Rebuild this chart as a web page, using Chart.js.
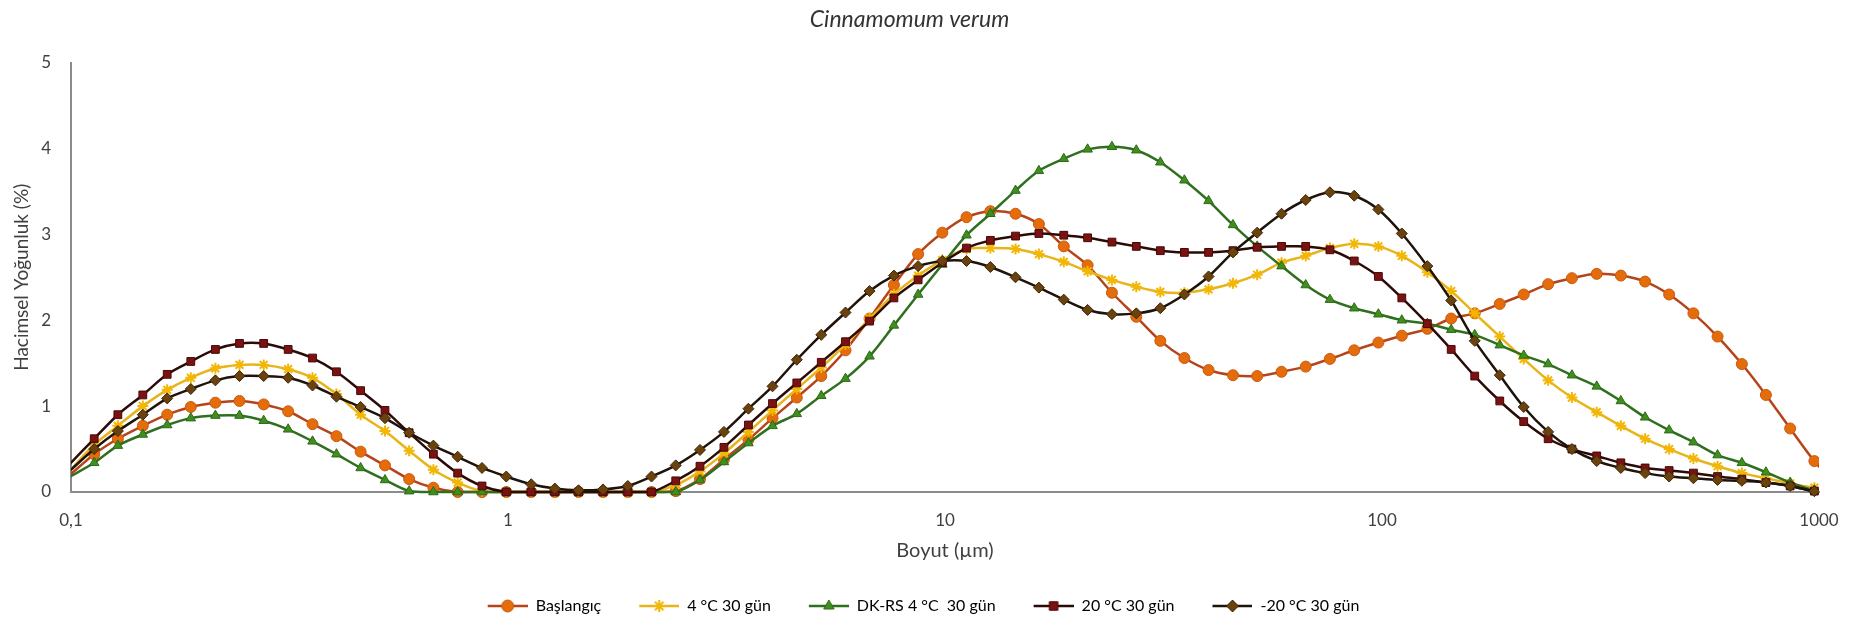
<!DOCTYPE html>
<html>
<head>
<meta charset="utf-8">
<title>Cinnamomum verum</title>
<script src="https://cdn.jsdelivr.net/npm/chart.js@4.4.1/dist/chart.umd.min.js"></script>
<style>
  html, body { margin: 0; padding: 0; background: #ffffff; }
  #wrap { width: 1870px; height: 626px; position: relative; }
</style>
</head>
<body>
<div id="wrap"><canvas id="psdChart" width="1870" height="626"></canvas></div>
<script>
// Particle size classes (µm), log spaced
var sizes = [
  0.0995, 0.113, 0.128, 0.146, 0.166, 0.188, 0.214, 0.243, 0.276, 0.314,
  0.357, 0.405, 0.460, 0.523, 0.594, 0.675, 0.767, 0.872, 0.991, 1.13,
  1.28, 1.45, 1.65, 1.88, 2.13, 2.42, 2.75, 3.12, 3.55, 4.03,
  4.58, 5.21, 5.92, 6.72, 7.64, 8.68, 9.86, 11.2, 12.7, 14.5,
  16.4, 18.7, 21.2, 24.1, 27.4, 31.1, 35.3, 40.1, 45.6, 51.8,
  58.9, 66.9, 76.0, 86.4, 98.1, 111, 127, 144, 163, 186,
  211, 240, 272, 310, 352, 400, 454, 516, 586, 666,
  756, 859, 976, 1110
];

var baslangic = [
  0.20, 0.44, 0.62, 0.77, 0.90, 0.99, 1.04, 1.06, 1.02, 0.94,
  0.79, 0.65, 0.47, 0.31, 0.15, 0.05, 0, 0, 0, 0,
  0, 0, 0, 0, 0, 0.01, 0.15, 0.38, 0.61, 0.86,
  1.10, 1.35, 1.65, 2.02, 2.41, 2.77, 3.02, 3.20, 3.27, 3.24,
  3.12, 2.86, 2.64, 2.32, 2.04, 1.76, 1.56, 1.42, 1.36, 1.35,
  1.40, 1.46, 1.55, 1.65, 1.74, 1.82, 1.90, 2.02, 2.08, 2.19,
  2.30, 2.42, 2.49, 2.54, 2.52, 2.45, 2.30, 2.08, 1.81, 1.49,
  1.13, 0.74, 0.36, 0.05
];

var c4gun30 = [
  0.25, 0.55, 0.77, 1.00, 1.19, 1.33, 1.44, 1.48, 1.48, 1.43,
  1.33, 1.14, 0.90, 0.71, 0.48, 0.26, 0.11, 0.01, 0, 0,
  0, 0, 0, 0, 0, 0.08, 0.24, 0.45, 0.70, 0.95,
  1.20, 1.45, 1.72, 2.02, 2.30, 2.52, 2.70, 2.83, 2.84, 2.83,
  2.77, 2.68, 2.57, 2.47, 2.39, 2.33, 2.32, 2.36, 2.43, 2.53,
  2.67, 2.75, 2.84, 2.89, 2.86, 2.75, 2.56, 2.34, 2.08, 1.81,
  1.55, 1.30, 1.10, 0.93, 0.77, 0.62, 0.50, 0.39, 0.30, 0.22,
  0.16, 0.10, 0.05, 0.02
];

var dkrs4 = [
  0.18, 0.34, 0.54, 0.67, 0.78, 0.86, 0.89, 0.89, 0.83, 0.73,
  0.59, 0.44, 0.28, 0.14, 0.01, 0, 0, 0, 0, 0,
  0, 0, 0, 0, 0, 0, 0.14, 0.35, 0.57, 0.77,
  0.91, 1.12, 1.32, 1.58, 1.94, 2.30, 2.65, 2.99, 3.24, 3.51,
  3.74, 3.88, 3.99, 4.02, 3.98, 3.84, 3.63, 3.39, 3.11, 2.86,
  2.63, 2.41, 2.24, 2.14, 2.07, 2.00, 1.96, 1.89, 1.83, 1.71,
  1.59, 1.49, 1.36, 1.23, 1.06, 0.87, 0.72, 0.58, 0.43, 0.34,
  0.23, 0.11, 0.02, 0
];

var c20gun30 = [
  0.33, 0.62, 0.90, 1.13, 1.37, 1.52, 1.66, 1.73, 1.73, 1.66,
  1.56, 1.40, 1.18, 0.95, 0.69, 0.44, 0.22, 0.07, 0, 0,
  0, 0, 0, 0, 0, 0.13, 0.30, 0.52, 0.78, 1.03,
  1.27, 1.51, 1.75, 1.99, 2.26, 2.47, 2.67, 2.84, 2.93, 2.98,
  3.01, 2.99, 2.96, 2.91, 2.86, 2.81, 2.79, 2.79, 2.81, 2.85,
  2.86, 2.86, 2.82, 2.69, 2.51, 2.26, 1.96, 1.66, 1.35, 1.06,
  0.82, 0.62, 0.50, 0.42, 0.34, 0.28, 0.25, 0.22, 0.18, 0.15,
  0.11, 0.07, 0.01, 0
];

var eksi20gun30 = [
  0.25, 0.50, 0.71, 0.90, 1.09, 1.20, 1.30, 1.35, 1.35, 1.33,
  1.24, 1.11, 0.99, 0.86, 0.69, 0.54, 0.41, 0.28, 0.18, 0.09,
  0.04, 0.02, 0.03, 0.07, 0.18, 0.31, 0.49, 0.70, 0.97, 1.23,
  1.54, 1.83, 2.09, 2.34, 2.52, 2.63, 2.69, 2.69, 2.62, 2.50,
  2.38, 2.24, 2.12, 2.07, 2.08, 2.14, 2.30, 2.51, 2.79, 3.02,
  3.24, 3.40, 3.49, 3.45, 3.29, 3.01, 2.63, 2.23, 1.76, 1.36,
  0.99, 0.70, 0.50, 0.36, 0.28, 0.22, 0.18, 0.16, 0.14, 0.13,
  0.11, 0.07, 0.01, 0
];

var seriesNames = ['Başlangıç', '4 °C 30 gün', 'DK-RS 4 °C  30 gün', '20 °C 30 gün', '-20 °C 30 gün'];
var xTickValues = [0.1, 1, 10, 100, 1000];
var xTickLabels = ['0,1', '1', '10', '100', '1000'];

var FONT = 'Lato, "Open Sans", "DejaVu Sans", sans-serif';
var TEXT_COLOR = '#404040';

var styles = [
  { line: '#b5441a', fill: '#e46c0a', border: '#c85a10', point: 'circle', order: 5 },
  { line: '#e8b419', fill: '#f2b705', border: '#e2a900', point: 'star', order: 4 },
  { line: '#2f6f1f', fill: '#3f8f1f', border: '#2d6a16', point: 'triangle', order: 3 },
  { line: '#2b0b08', fill: '#7b1212', border: '#4a0808', point: 'rect', order: 2 },
  { line: '#1f130a', fill: '#6a420e', border: '#3e2606', point: 'rectRot', order: 1 }
];

function toPoints(values) {
  var pts = [];
  for (var i = 0; i < sizes.length; i++) {
    pts.push({ x: sizes[i], y: values[i] });
  }
  return pts;
}

// hide markers that fall outside the 0,1 - 1000 window
function markerRadius(ctx) {
  var x = sizes[ctx.dataIndex];
  if (x < 0.1 || x > 1000) return 0;
  return 5.5;
}

// legend icon: short line with the marker on it (left part transparent as spacing)
function makeLegendIcon(st) {
  var c = document.createElement('canvas');
  c.width = 68;
  c.height = 16;
  var g = c.getContext('2d');
  g.strokeStyle = st.line;
  g.lineWidth = 2.5;
  g.beginPath();
  g.moveTo(28, 8);
  g.lineTo(68, 8);
  g.stroke();
  g.fillStyle = st.fill;
  g.strokeStyle = st.point === 'star' ? st.fill : st.border;
  g.lineWidth = st.point === 'star' ? 2 : 1;
  Chart.helpers.drawPoint(g, { pointStyle: st.point, radius: 6, borderWidth: g.lineWidth, rotation: 0 }, 48, 8);
  return c;
}

var allValues = [baslangic, c4gun30, dkrs4, c20gun30, eksi20gun30];
var datasets = [];
for (var s = 0; s < allValues.length; s++) {
  var st = styles[s];
  datasets.push({
    label: seriesNames[s],
    data: toPoints(allValues[s]),
    borderColor: st.line,
    borderWidth: 2.5,
    backgroundColor: st.fill,
    pointStyle: st.point,
    pointRadius: markerRadius,
    pointBackgroundColor: st.fill,
    pointBorderColor: st.point === 'star' ? st.fill : st.border,
    pointBorderWidth: st.point === 'star' ? 2 : 1,
    tension: 0.3,
    fill: false,
    order: st.order,
    clip: { left: 0, right: 0, top: 10, bottom: 10 },
    legendIcon: makeLegendIcon(st)
  });
}

var ctx = document.getElementById('psdChart');
var psdChart = new Chart(ctx, {
  type: 'line',
  data: { datasets: datasets },
  options: {
    responsive: false,
    animation: false,
    devicePixelRatio: 1,
    layout: { padding: { left: 0, right: 51, top: 0, bottom: 2 } },
    plugins: {
      title: {
        display: true,
        text: 'Cinnamomum verum',
        color: '#333333',
        font: { family: FONT, size: 23, style: 'italic', weight: 'normal' },
        padding: { top: 6, bottom: 29 }
      },
      legend: {
        display: true,
        position: 'bottom',
        labels: {
          usePointStyle: true,
          pointStyleWidth: 68,
          padding: 10,
          color: TEXT_COLOR,
          font: { family: FONT, size: 16 },
          generateLabels: function(chart) {
            return chart.data.datasets.map(function(ds, i) {
              return {
                text: ds.label,
                pointStyle: ds.legendIcon,
                fillStyle: ds.backgroundColor,
                strokeStyle: ds.borderColor,
                lineWidth: 0,
                hidden: false,
                datasetIndex: i
              };
            });
          }
        }
      },
      tooltip: { enabled: false }
    },
    scales: {
      x: {
        type: 'logarithmic',
        min: 0.1,
        max: 1000,
        grid: { display: false },
        border: { display: true, color: '#8c8c8c', width: 2 },
        afterBuildTicks: function(axis) {
          axis.ticks = xTickValues.map(function(v) { return { value: v }; });
        },
        afterFit: function(scale) { scale.height = 96; },
        ticks: {
          autoSkip: false,
          maxRotation: 0,
          padding: 10,
          color: TEXT_COLOR,
          font: { family: FONT, size: 17 },
          callback: function(value) {
            var i = xTickValues.indexOf(value);
            return i >= 0 ? xTickLabels[i] : '';
          }
        },
        title: {
          display: true,
          text: 'Boyut (µm)',
          color: TEXT_COLOR,
          font: { family: FONT, size: 20 },
          padding: { top: 0, bottom: 25 }
        }
      },
      y: {
        min: 0,
        max: 5,
        grid: { display: false },
        border: { display: true, color: '#8c8c8c', width: 2 },
        afterFit: function(scale) { scale.width = 71; },
        ticks: {
          stepSize: 1,
          padding: 12,
          color: TEXT_COLOR,
          font: { family: FONT, size: 17 }
        },
        title: {
          display: true,
          text: 'Hacimsel Yoğunluk (%)',
          color: TEXT_COLOR,
          font: { family: FONT, size: 19 },
          padding: { top: 10, bottom: 0 }
        }
      }
    }
  }
});
</script>
</body>
</html>
